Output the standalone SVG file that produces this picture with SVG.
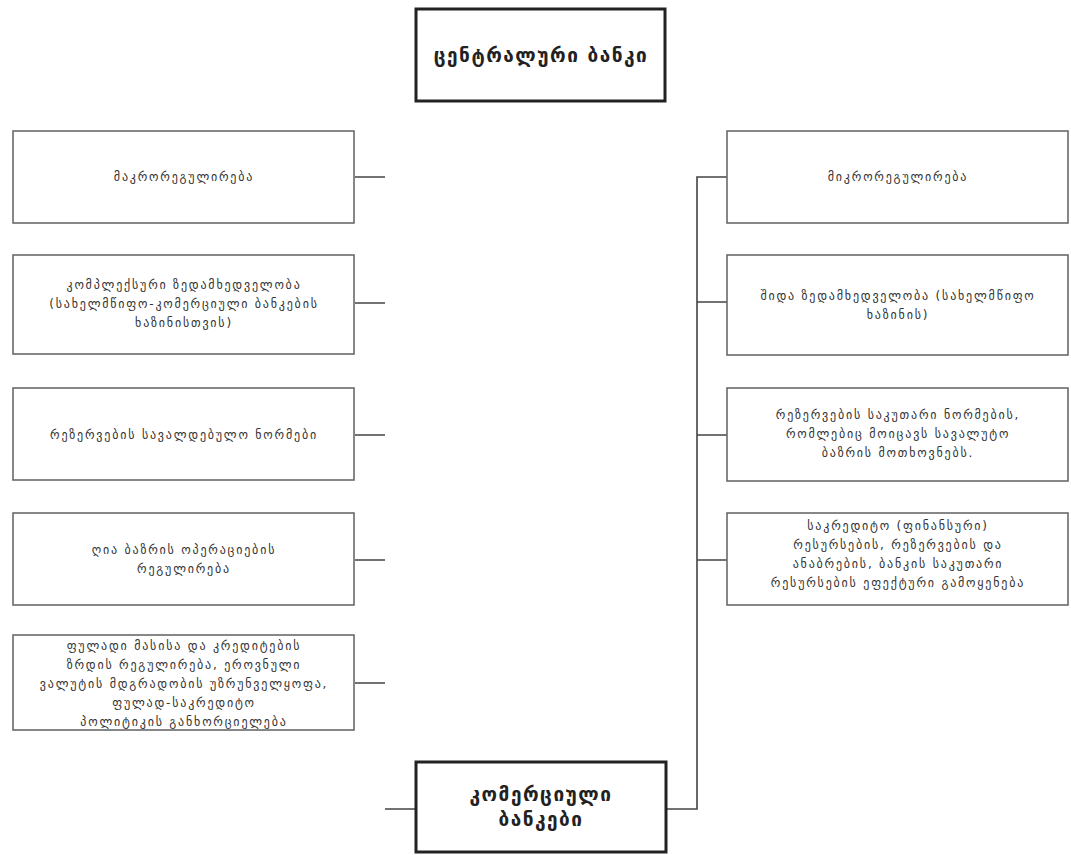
<svg xmlns="http://www.w3.org/2000/svg" width="1071" height="855" viewBox="0 0 1071 855">
<style>
.box{fill:#fff;stroke:#6a6a6a;stroke-width:1.6}
.main{fill:#fff;stroke:#222;stroke-width:3}
.t{font-family:"DejaVu Sans",sans-serif;font-size:12px;letter-spacing:1.8px;fill:#333;text-anchor:middle}
.mt{font-family:"DejaVu Sans",sans-serif;font-size:19px;letter-spacing:1.5px;font-weight:bold;fill:#222;text-anchor:middle}
.c{fill:none;stroke:#444;stroke-width:1.6}
</style>
<rect width="1071" height="855" fill="#fff"/>
<g id="connectors">
<path class="c" d="M355 177H385M355 303H385M355 435H385M355 560H385M355 683H385M385 809H416"/>
<path class="c" d="M666 809H697V177H727M697 302H727M697 435H727M697 560H727"/>
</g>
<g id="central-bank">
<rect class="main" x="416" y="9" width="249" height="92"/>
<text class="mt" x="541" y="62">ცენტრალური ბანკი</text>
</g>
<g id="l1">
<rect class="box" x="13" y="131" width="341" height="92"/>
<text class="t" x="184" y="181">მაკრორეგულირება</text>
</g>
<g id="l2">
<rect class="box" x="13" y="255" width="341" height="99"/>
<text class="t" x="184" y="289">კომპლექსური ზედამხედველობა</text>
<text class="t" x="184" y="308">(სახელმწიფო-კომერციული ბანკების</text>
<text class="t" x="184" y="327">ხაზინისთვის)</text>
</g>
<g id="l3">
<rect class="box" x="13" y="388" width="341" height="92"/>
<text class="t" x="184" y="439">რეზერვების სავალდებულო ნორმები</text>
</g>
<g id="l4">
<rect class="box" x="13" y="513" width="341" height="92"/>
<text class="t" x="184" y="554">ღია ბაზრის ოპერაციების</text>
<text class="t" x="184" y="573">რეგულირება</text>
</g>
<g id="l5">
<rect class="box" x="13" y="635" width="341" height="95"/>
<text class="t" x="184" y="650">ფულადი მასისა და კრედიტების</text>
<text class="t" x="184" y="669">ზრდის რეგულირება, ეროვნული</text>
<text class="t" x="184" y="688">ვალუტის მდგრადობის უზრუნველყოფა,</text>
<text class="t" x="184" y="707">ფულად-საკრედიტო</text>
<text class="t" x="184" y="726">პოლიტიკის განხორციელება</text>
</g>
<g id="r1">
<rect class="box" x="727" y="131" width="341" height="92"/>
<text class="t" x="898" y="181">მიკრორეგულირება</text>
</g>
<g id="r2">
<rect class="box" x="727" y="255" width="341" height="100"/>
<text class="t" x="898" y="300">შიდა ზედამხედველობა (სახელმწიფო</text>
<text class="t" x="898" y="319">ხაზინის)</text>
</g>
<g id="r3">
<rect class="box" x="727" y="388" width="341" height="93"/>
<text class="t" x="898" y="419">რეზერვების საკუთარი ნორმების,</text>
<text class="t" x="898" y="438">რომლებიც მოიცავს სავალუტო</text>
<text class="t" x="898" y="457">ბაზრის მოთხოვნებს.</text>
</g>
<g id="r4">
<rect class="box" x="727" y="513" width="341" height="92"/>
<text class="t" x="898" y="530">საკრედიტო (ფინანსური)</text>
<text class="t" x="898" y="549">რესურსების, რეზერვების და</text>
<text class="t" x="898" y="568">ანაბრების, ბანკის საკუთარი</text>
<text class="t" x="898" y="587">რესურსების ეფექტური გამოყენება</text>
</g>
<g id="commercial-banks">
<rect class="main" x="416" y="762" width="250" height="90"/>
<text class="mt" x="541" y="801">კომერციული</text>
<text class="mt" x="541" y="826">ბანკები</text>
</g>
</svg>
